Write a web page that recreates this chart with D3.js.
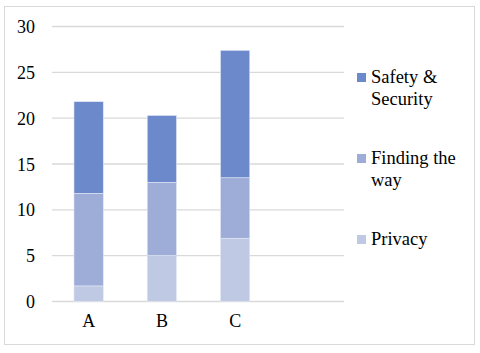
<!DOCTYPE html>
<html><head><meta charset="utf-8">
<script src="https://cdn.jsdelivr.net/npm/d3@7"></script>
<style>html,body{margin:0;padding:0;background:#fff;} svg{display:block;}</style>
</head><body>
<script>
const categories = ["A", "B", "C", ""];
const seriesNames = ["Privacy", "Finding the way", "Safety & Security"];
const privacy = [1.7, 5.0, 6.9, 0];
const findingTheWay = [10.1, 8.0, 6.6, 0];
const safetySecurity = [10.0, 7.3, 13.9, 0];
const yTicks = [0, 5, 10, 15, 20, 25, 30];
const colors = ["#bfc9e4", "#9eadd7", "#6c89cb"];
const legendLabels = [["Safety &", "Security"], ["Finding the", "way"], ["Privacy"]];

const W = 480, H = 353;
const svg = d3.select("body").append("svg").attr("width", W).attr("height", H);
svg.append("rect").attr("x", 4.5).attr("y", 6.5).attr("width", 470).attr("height", 338)
  .attr("fill", "#fff").attr("stroke", "#d9d9d9").attr("stroke-width", 1);

const x = d3.scaleBand().domain(categories).range([52, 345]).paddingInner(0.6).paddingOuter(0.3);
const y = d3.scaleLinear().domain([0, 30]).range([301.5, 26.5]);
const font = "'Liberation Serif', 'Times New Roman', serif";

// grid
svg.append("g").selectAll("line").data(yTicks).join("line")
  .attr("x1", 52).attr("x2", 344).attr("y1", d => y(d)).attr("y2", d => y(d))
  .attr("stroke", "#d9d9d9").attr("stroke-width", 1.3);

const rows = categories.map((c, i) => ({cat: c, "Privacy": privacy[i], "Finding the way": findingTheWay[i], "Safety & Security": safetySecurity[i]}));
const stack = d3.stack().keys(seriesNames)(rows);

svg.append("g").selectAll("g").data(stack).join("g")
  .attr("fill", (d, i) => colors[i])
  .selectAll("rect").data(d => d.filter(p => p.data.cat !== "")).join("rect")
  .attr("x", d => x(d.data.cat)).attr("width", x.bandwidth())
  .attr("y", d => y(d[1])).attr("height", d => y(d[0]) - y(d[1]))
  .attr("stroke", "#e4e9f5").attr("stroke-width", 0.6);

// y axis labels
const yAxis = d3.axisLeft(y).tickValues(yTicks).tickSize(0).tickPadding(0);
const yg = svg.append("g").attr("transform", "translate(35,0)").call(yAxis);
yg.select(".domain").remove();
yg.selectAll("text").attr("font-family", font).attr("font-size", 18).attr("fill", "#000").attr("dy", "0.34em");

// x axis labels
const xAxis = d3.axisBottom(x).tickSize(0).tickPadding(0);
const xg = svg.append("g").attr("transform", "translate(0,314)").call(xAxis);
xg.select(".domain").remove();
xg.selectAll("text").attr("font-family", font).attr("font-size", 18).attr("fill", "#000").attr("dy", "0.71em");

// legend
const legendY = [83, 164, 245];
const lg = svg.append("g");
legendLabels.forEach((lines, i) => {
  lg.append("rect").attr("x", 357).attr("y", legendY[i] - 10).attr("width", 9).attr("height", 9)
    .attr("fill", colors[2 - i]);
  const t = lg.append("text").attr("x", 371).attr("y", legendY[i])
    .attr("font-family", font).attr("font-size", 18.5).attr("fill", "#000");
  lines.forEach((l, j) => t.append("tspan").attr("x", 371).attr("dy", j === 0 ? 0 : 22).text(l));
});
</script>
</body></html>
